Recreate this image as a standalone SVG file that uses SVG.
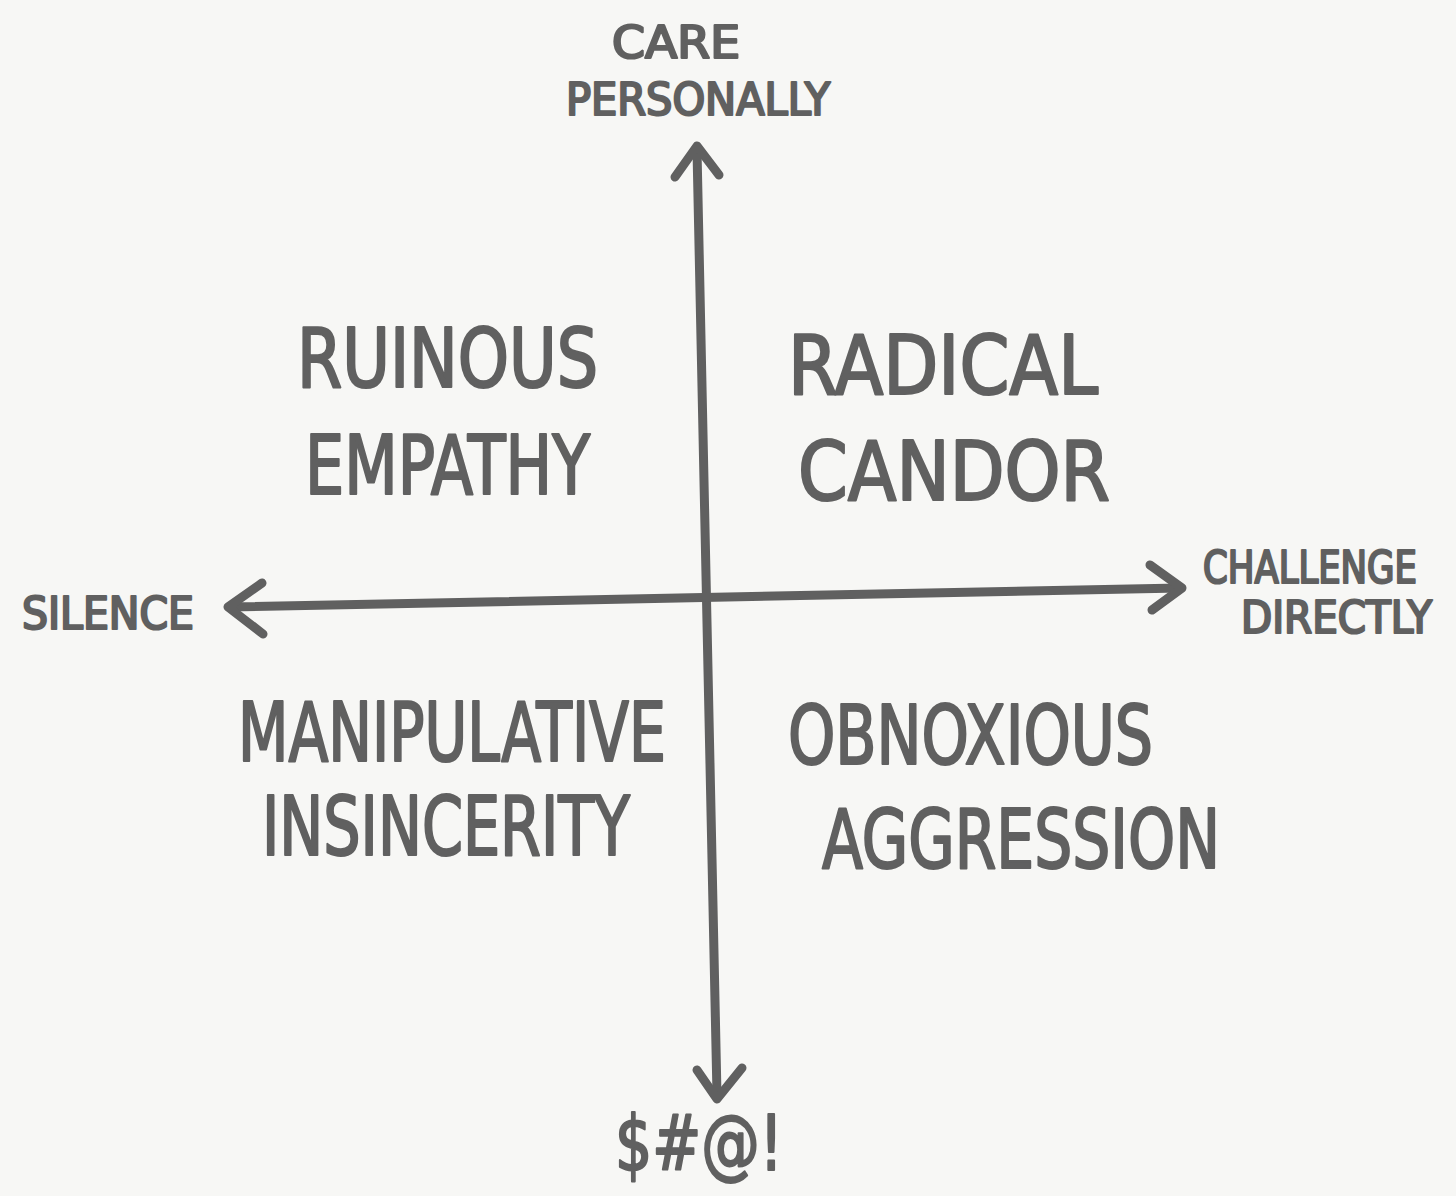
<svg xmlns="http://www.w3.org/2000/svg" width="1456" height="1196" viewBox="0 0 1456 1196">
<style>
.bg{fill:#f7f7f5}
.ax{fill:none;stroke:#606060;stroke-width:9;stroke-linecap:round;stroke-linejoin:round}
text{font-family:"DejaVu Sans Condensed","DejaVu Sans","Liberation Sans",sans-serif;fill:#606060;stroke:#606060;stroke-width:2.2;stroke-linejoin:round;text-anchor:start}
.big{font-size:82px}
.sm{font-size:44px}
</style>
<rect class="bg" x="0" y="0" width="1456" height="1196"/>
<g id="connectors">
<path class="ax" d="M697,150 L717,1095"/>
<path class="ax" d="M675,177 L697,146 L719,175"/>
<path class="ax" d="M697,1070 L717,1099 L742,1068"/>
<path class="ax" d="M229,607 L1180,588"/>
<path class="ax" d="M262,583 L228,607 L263,634"/>
<path class="ax" d="M1150,565 L1182,588 L1152,610"/>
</g>
<g id="care-personally">
<text class="sm" x="612" y="58" textLength="128" lengthAdjust="spacingAndGlyphs">CARE</text>
<text class="sm" x="566" y="115" textLength="264" lengthAdjust="spacingAndGlyphs">PERSONALLY</text>
</g>
<g id="silence">
<text class="sm" x="22" y="629" textLength="172" lengthAdjust="spacingAndGlyphs">SILENCE</text>
</g>
<g id="challenge-directly">
<text class="sm" x="1203" y="583" textLength="214" lengthAdjust="spacingAndGlyphs">CHALLENGE</text>
<text class="sm" x="1241" y="633" textLength="191" lengthAdjust="spacingAndGlyphs">DIRECTLY</text>
</g>
<g id="shat">
<text x="615" y="1170" style="font-size:76px" textLength="168" lengthAdjust="spacingAndGlyphs">$#@!</text>
</g>
<g id="ruinous-empathy">
<text class="big" x="297" y="387" textLength="301" lengthAdjust="spacingAndGlyphs">RUINOUS</text>
<text class="big" x="305" y="494" textLength="285" lengthAdjust="spacingAndGlyphs">EMPATHY</text>
</g>
<g id="radical-candor">
<text class="big" x="788" y="394" textLength="310" lengthAdjust="spacingAndGlyphs">RADICAL</text>
<text class="big" x="798" y="500" textLength="312" lengthAdjust="spacingAndGlyphs">CANDOR</text>
</g>
<g id="manipulative-insincerity">
<text class="big" x="238" y="761" textLength="428" lengthAdjust="spacingAndGlyphs">MANIPULATIVE</text>
<text class="big" x="262" y="855" textLength="368" lengthAdjust="spacingAndGlyphs">INSINCERITY</text>
</g>
<g id="obnoxious-aggression">
<text class="big" x="788" y="764" textLength="365" lengthAdjust="spacingAndGlyphs">OBNOXIOUS</text>
<text class="big" x="822" y="868" textLength="398" lengthAdjust="spacingAndGlyphs">AGGRESSION</text>
</g>
</svg>
